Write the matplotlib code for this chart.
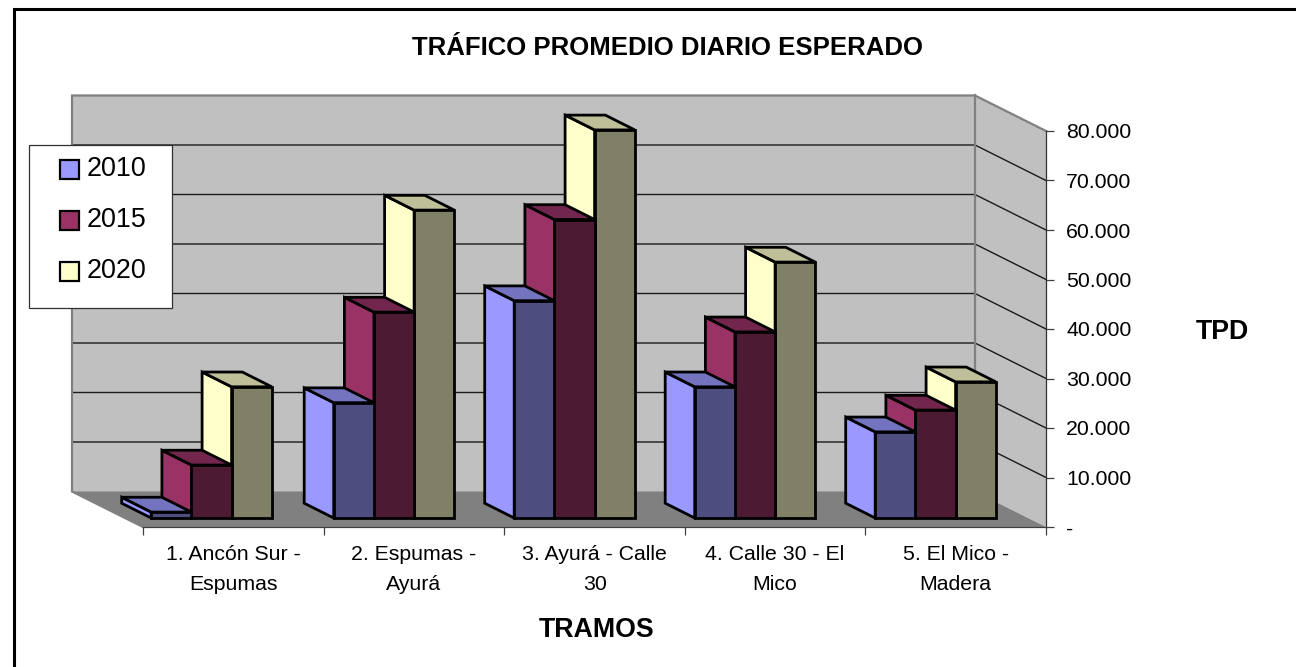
import matplotlib
matplotlib.use("Agg")
import matplotlib.pyplot as plt
from matplotlib.lines import Line2D
from matplotlib.patches import Patch, Rectangle
from matplotlib.ticker import FuncFormatter

plt.rcParams['font.family'] = ['Liberation Sans', 'DejaVu Sans']

categories = ["1. Ancón Sur -\nEspumas", "2. Espumas -\nAyurá", "3. Ayurá - Calle\n30",
              "4. Calle 30 - El\nMico", "5. El Mico -\nMadera"]
years = ["2010", "2015", "2020"]
v2010 = [1200, 23300, 43900, 26500, 17400]
v2015 = [10700, 41600, 60300, 37600, 21800]
v2020 = [26500, 62200, 78400, 51700, 27500]
series = [v2010, v2015, v2020]
side_colors = ["#9999FF", "#993366", "#FFFFCC"]
front_colors = ["#4D4D80", "#4D1A33", "#808066"]
top_colors = ["#7373BF", "#73264D", "#BFBF99"]
yticks = [0, 10000, 20000, 30000, 40000, 50000, 60000, 70000, 80000]
group_px = [211.5, 394, 574.5, 755, 935.5]

W, H = 1296, 667
fig = plt.figure(figsize=(W / 100, H / 100), dpi=100, facecolor="white")
fx0, fx1, fy0, fy1 = 143, 1046, 527, 131
ax = fig.add_axes([fx0 / W, 1 - fy0 / H, (fx1 - fx0) / W, (fy0 - fy1) / H])
ax.set_xlim(0, 5)
ax.set_ylim(0, 80000)
ax.patch.set_visible(False)
for s in ["top", "left"]:
    ax.spines[s].set_visible(False)
ax.spines["bottom"].set_color("#404040")
ax.spines["right"].set_color("#303030")
ax.spines["bottom"].set_linewidth(0.9)
ax.spines["right"].set_linewidth(0.9)
ax.spines["bottom"].set_zorder(6)
ax.spines["right"].set_zorder(6)

# pixel offsets -> data units
ux = 5 / (fx1 - fx0)
uy = 80000 / (fy0 - fy1)
DX, DY = 71 * ux, 35.5 * uy


def poly(xs, ys, fc, ec="none", lw=0, z=1, **kw):
    ax.fill(xs, ys, facecolor=fc, edgecolor=ec, linewidth=lw, zorder=z, clip_on=False,
            joinstyle="miter", **kw)


# walls and floor
poly([0 - DX + 0, 5 - DX, 5 - DX, 0 - DX], [DY, DY, 80000 + DY, 80000 + DY], "#C0C0C0", z=1)
poly([5 - DX, 5, 5, 5 - DX], [DY, 0, 80000, 80000 + DY], "#C0C0C0", z=1)
poly([0 - DX, 5 - DX, 5, 0], [DY, DY, 0, 0], "#808080", z=1.5)

for t in yticks[1:-1]:
    ax.plot([-DX, 5 - DX, 5], [t + DY, t + DY, t], color="#1A1A1A", lw=1.0, zorder=1.2,
            clip_on=False, solid_joinstyle="miter")

grey = "#808080"
ax.plot([0, -DX, -DX, 5 - DX, 5], [0, DY, 80000 + DY, 80000 + DY, 80000], color=grey, lw=1.6,
        zorder=1.4, clip_on=False, solid_joinstyle="miter")
ax.plot([5 - DX, 5 - DX], [DY, 80000 + DY], color=grey, lw=1.6, zorder=1.4, clip_on=False)

# bars, right series first so nearer left-hand bars overlap correctly
bw = 40.2 * ux
dx, dy = 29.5 * ux, 14.8 * uy
base_y = 9 * uy
edge = dict(ec="black", lw=2.0)
for c in range(5):
    center = (group_px[c] - fx0) * ux
    for k in (2, 1, 0):
        v = series[k][c]
        x0 = center + (k - 1.5) * bw
        x1 = x0 + bw
        y0 = base_y
        y1 = base_y + v
        z = 3 + c + (2 - k) * 0.1
        poly([x0 - dx, x0, x0, x0 - dx], [y0 + dy, y0, y1, y1 + dy], side_colors[k], z=z, **edge)
        poly([x0 - dx, x1 - dx, x1, x0], [y1 + dy, y1 + dy, y1, y1], top_colors[k], z=z, **edge)
        poly([x0, x1, x1, x0], [y0, y0, y1, y1], front_colors[k], z=z, **edge)

# axes ticks
ax.yaxis.tick_right()
ax.set_yticks(yticks)
ax.yaxis.set_major_formatter(FuncFormatter(
    lambda v, p: "-" if v == 0 else f"{int(v):,}".replace(",", ".")))
ax.tick_params(axis="y", length=5.5, width=0.9, color="#404040", labelsize=15.3, pad=9,
               labelcolor="black")
ax.set_xticks(range(6))
ax.set_xticklabels([""] * 6)
ax.tick_params(axis="x", length=5.5, width=0.9, color="#404040")
for i, lab in enumerate(categories):
    ax.annotate(lab, xy=(i + 0.5, 0), xycoords=("data", "axes fraction"),
                xytext=(0, -13), textcoords="offset points", ha="center", va="top",
                fontsize=15.3, linespacing=1.72, color="black", annotation_clip=False)

# chart frame: only top and left edges fall inside the picture
fig.add_artist(Line2D([14 / W, 14 / W, 1], [0, 1 - 9 / H, 1 - 9 / H], color="black", lw=2.2,
                      transform=fig.transFigure, solid_joinstyle="miter", zorder=8))

# titles
fig.text(667.5 / W, 1 - 48 / H, "TRÁFICO PROMEDIO DIARIO ESPERADO", fontsize=18.5,
         fontweight="bold", ha="center", va="center")
fig.text(1222 / W, 1 - 332 / H, "TPD", fontsize=19.3, fontweight="bold", ha="center", va="center")
fig.text(596.5 / W, 1 - 630 / H, "TRAMOS", fontsize=19.3, fontweight="bold", ha="center", va="center")

# legend
fig.add_artist(Rectangle((29 / W, 1 - 307.5 / H), 142.5 / W, 163 / H, transform=fig.transFigure,
                         facecolor="white", edgecolor="#303030", linewidth=0.9, zorder=4))
handles = [Patch(facecolor=c, edgecolor="black", linewidth=1.6) for c in side_colors]
leg = fig.legend(handles, years, loc="upper left", bbox_to_anchor=(60 / W, 1 - 156 / H),
                 frameon=False, fontsize=19.4, handlelength=0.7, handleheight=0.7,
                 handletextpad=0.28, labelspacing=0.93, borderpad=0, borderaxespad=0)
leg.set_zorder(5)
for h in leg.legend_handles:
    h.set_y(h.get_y() - 2.2)

fig.savefig("out.png", dpi=100)
